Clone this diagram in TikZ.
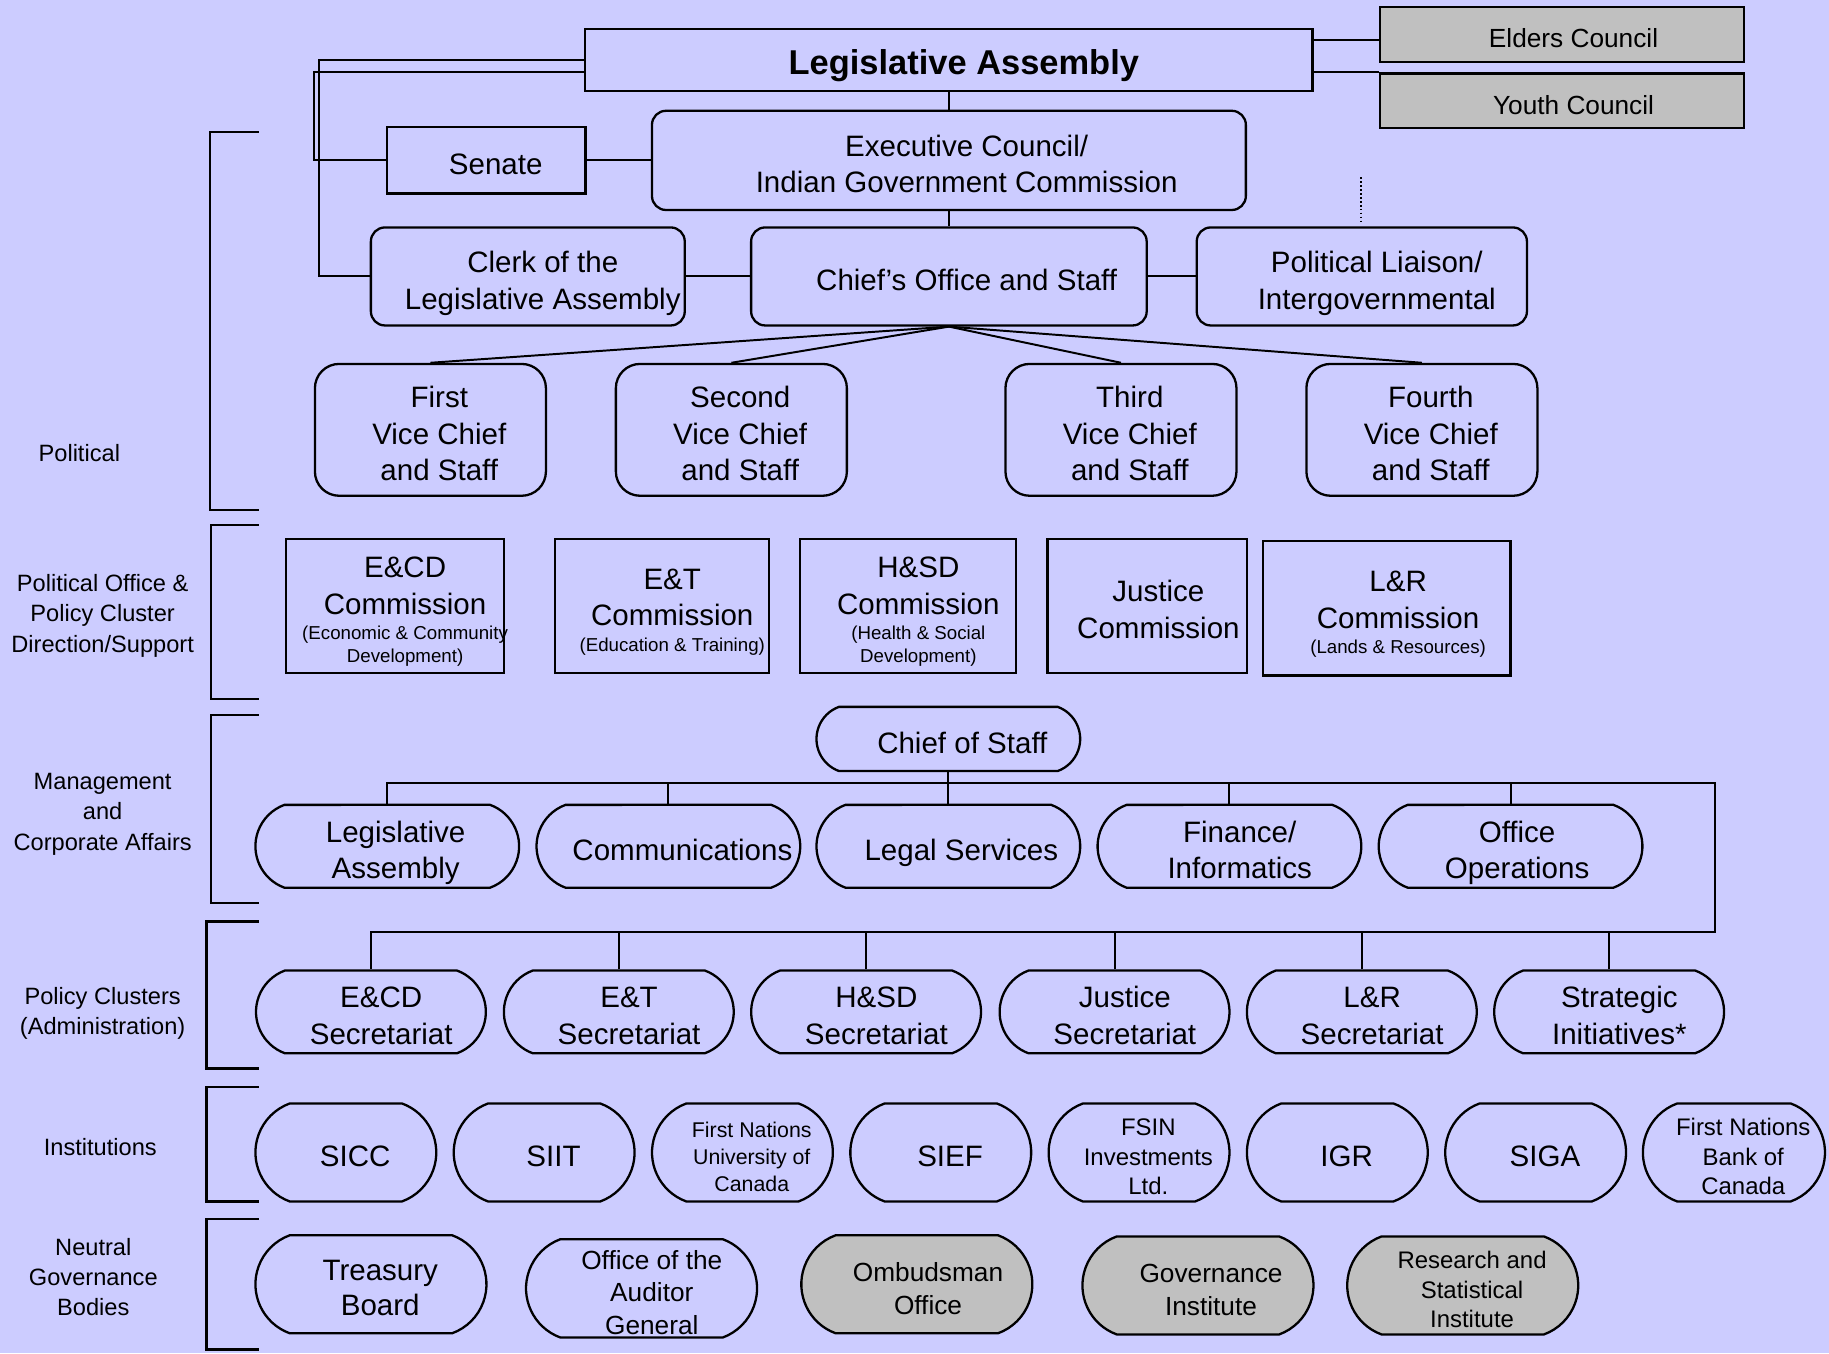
\documentclass[tikz,border=0pt]{standalone}
\usepackage{fontspec}
\setmainfont{Liberation Sans}
\usepackage{tikz}
\usetikzlibrary{shapes}
\definecolor{lavender}{RGB}{204,204,255}
\definecolor{greybox}{RGB}{192,192,192}
\newcommand{\mainf}{\fontsize{9}{11.2}\selectfont}
\newcommand{\smallf}{\fontsize{5.7}{7}\selectfont}
\newcommand{\sidef}{\fontsize{7.2}{9.2}\selectfont}
\newcommand{\tx}[2][0.11cm]{\raisebox{-2.1pt}[\height][\depth]{\kern#1\begin{tabular}{@{}c@{}}#2\end{tabular}\kern-#1}}

\begin{document}
\begin{tikzpicture}[x=0.0125cm, y=-0.0125cm,
  every node/.style={inner sep=0pt, font=\mainf},
  sq/.style={draw, line width=0.7pt},
  rnd/.style={draw, line width=0.7pt, rounded corners=0.15cm, minimum height=1.05cm},
  vice/.style={draw, line width=0.7pt, rounded corners=0.26cm, minimum width=2.475cm, minimum height=1.4125cm},
  comm/.style={draw, line width=0.7pt, minimum height=1.4375cm},
  pill/.style={draw, line width=0.7pt, rounded rectangle, rounded rectangle arc length=140},
  mgmt/.style={pill, minimum width=2.825cm, minimum height=0.8875cm},
  secr/.style={pill, minimum width=2.4625cm, minimum height=0.8875cm},
  inst/.style={pill, minimum width=1.9375cm, minimum height=1.05cm},
  ngb/.style={pill, minimum width=2.475cm, minimum height=1.05cm},
  council/.style={draw, line width=0.7pt, fill=greybox, minimum width=3.9cm, minimum height=0.5875cm, font=\fontsize{8}{10}\selectfont},
  side/.style={align=center, font=\sidef},
  link/.style={line width=0.6pt}
]
\path[use as bounding box, fill=lavender] (0,0) rectangle (1568,1160);

\node[sq, minimum width=7.79cm, minimum height=0.6625cm, font=\bfseries\fontsize{10.5}{12}\selectfont] (la) at (813.5,51.5) {\tx[0.16cm]{Legislative Assembly}};
\node[council] (elders) at (1339,29.5) {\tx[0.125cm]{Elders Council}};
\node[council] (youth) at (1339,86.5) {\tx[0.125cm]{Youth Council}};
\node[sq, minimum width=2.125cm, minimum height=0.7125cm] (senate) at (417,137.5) {\tx[0.1cm]{Senate}};
\node[rnd, minimum width=6.3625cm, minimum height=1.0625cm] (exec) at (813.5,137.5) {\tx[0.19cm]{Executive Council/\\Indian Government Commission}};
\node[rnd, minimum width=3.3625cm] (clerk) at (452.5,237) {\tx[0.16cm]{Clerk of the\\Legislative Assembly}};
\node[rnd, minimum width=4.2375cm] (chiefoff) at (813.5,237) {\tx[0.19cm]{Chief’s Office and Staff}};
\node[rnd, minimum width=3.5375cm] (liaison) at (1167.5,237) {\tx[0.16cm]{Political Liaison/\\Intergovernmental}};

\node[vice] (vc1) at (369,368.5) {\tx[0.095cm]{First\\Vice Chief\\and Staff}};
\node[vice] (vc2) at (627,368.5) {\tx[0.095cm]{Second\\Vice Chief\\and Staff}};
\node[vice] (vc3) at (961,368.5) {\tx[0.095cm]{Third\\Vice Chief\\and Staff}};
\node[vice] (vc4) at (1219,368.5) {\tx[0.095cm]{Fourth\\Vice Chief\\and Staff}};

\node[comm, minimum width=2.3375cm] (cecd) at (338.5,519.5) {\tx{E\&CD\\Commission\\[-3.7pt]\smallf(Economic \& Community\\[-4pt]\smallf Development)}};
\node[comm, minimum width=2.2875cm] (cet) at (567.5,519.5) {\tx{E\&T\\Commission\\[-3.4pt]\smallf(Education \& Training)}};
\node[comm, minimum width=2.3125cm] (chsd) at (778.5,519.5) {\tx{H\&SD\\Commission\\[-3.7pt]\smallf(Health \& Social\\[-4pt]\smallf Development)}};
\node[comm, minimum width=2.1375cm] (cjus) at (983.5,519.5) {\tx[0.12cm]{Justice\\Commission}};
\node[comm, minimum width=2.65cm] (clr) at (1189,521.5) {\tx[0.12cm]{L\&R\\Commission\\[-3.4pt]\smallf(Lands \& Resources)}};

\node[pill, minimum width=2.825cm, minimum height=0.6875cm] (cos) at (813,633.5) {\tx[0.15cm]{Chief of Staff}};
\node[mgmt] (mla) at (332,725.5) {\tx[0.09cm]{Legislative\\Assembly}};
\node[mgmt] (mcomm) at (573,725.5) {\tx[0.15cm]{Communications}};
\node[mgmt] (mlegal) at (813,725.5) {\tx[0.14cm]{Legal Services}};
\node[mgmt] (mfin) at (1054,725.5) {\tx{Finance/\\Informatics}};
\node[mgmt] (mops) at (1295,725.5) {\tx[0.07cm]{Office\\Operations}};

\node[secr] (secd) at (318,867.5) {\tx{E\&CD\\Secretariat}};
\node[secr] (set) at (530.5,867.5) {\tx{E\&T\\Secretariat}};
\node[secr] (shsd) at (742.5,867.5) {\tx{H\&SD\\Secretariat}};
\node[secr] (sjus) at (955.5,867.5) {\tx{Justice\\Secretariat}};
\node[secr] (slr) at (1167.5,867.5) {\tx{L\&R\\Secretariat}};
\node[secr] (sstrat) at (1379.5,867.5) {\tx{Strategic\\Initiatives*}};

\node[inst] (isicc) at (296.5,988) {\tx[0.1cm]{SICC}};
\node[inst] (isiit) at (466.5,988) {\tx[0.1cm]{SIIT}};
\node[inst, font=\fontsize{6.5}{8.2}\selectfont] (ifnuc) at (636.5,988) {\tx[0.1cm]{First Nations\\University of\\Canada}};
\node[inst] (isief) at (806.5,988) {\tx[0.1cm]{SIEF}};
\node[inst, font=\fontsize{7.3}{8.9}\selectfont] (ifsin) at (976.5,988) {\tx[0.1cm]{FSIN\\Investments\\Ltd.}};
\node[inst] (iigr) at (1146.5,988) {\tx[0.1cm]{IGR}};
\node[inst] (isiga) at (1316.5,988) {\tx[0.1cm]{SIGA}};
\node[inst, font=\fontsize{7.3}{8.9}\selectfont] (ifnbank) at (1486.5,988) {\tx[0.1cm]{First Nations\\Bank of\\Canada}};

\node[ngb, font=\fontsize{9}{10.7}\selectfont] (ntb) at (318,1101) {\tx[0.1cm]{Treasury\\Board}};
\node[ngb, font=\fontsize{8}{10}\selectfont] (noag) at (550,1104.5) {\tx{Office of the\\Auditor\\General}};
\node[ngb, fill=greybox, font=\fontsize{8}{10}\selectfont] (nomb) at (786,1101) {\tx[0.12cm]{Ombudsman\\Office}};
\node[ngb, fill=greybox, font=\fontsize{8}{10}\selectfont] (ngov) at (1027,1102) {\tx[0.14cm]{Governance\\Institute}};
\node[ngb, fill=greybox, font=\fontsize{7.3}{8.9}\selectfont] (nrsi) at (1254,1102) {\tx[0.1cm]{Research and\\Statistical\\Institute}};

\node[side] (lpol) at (68,388) {Political};
\node[side] (lpocd) at (88,528) {Political Office \&\\Policy Cluster\\Direction/Support};
\node[side] (lmca) at (88,698) {Management\\and\\Corporate Affairs};
\node[side] (lpc) at (88,869) {Policy Clusters\\(Administration)};
\node[side] (linst) at (86,983) {Institutions};
\node[side] (lngb) at (80,1095) {Neutral\\Governance\\Bodies};

\draw[link] (la.south) -- (exec.north);
\draw[link] ([yshift=-0.056cm]elders.west) coordinate (elink) -- (la.east |- elink);
\draw[link] (la.east |- youth.north west) -- (youth.north west);
\draw[link] (la.west) -- ++(-227,0) |- (clerk.west);
\draw[link] (la.west) ++(0,10) -- ++(-232,0) |- (senate.west);
\draw[link] (senate) -- (exec);
\draw[link] (exec) -- (chiefoff);
\draw[link] (clerk) -- (chiefoff);
\draw[link] (chiefoff) -- (liaison);
\coordinate (dotend) at (1167,152);
\draw[line width=0.5pt, dash pattern=on 0.5pt off 0.7pt] (dotend) -- ++(0,39);
\foreach \v in {vc1,vc2,vc3,vc4}
  \draw[link] (chiefoff.south) -- (\v.north);

\coordinate (mbar) at (1470,671);
\coordinate (sbar) at (1470,799);
\draw[link] (mla.north) |- (mbar) -- (sbar) -| (secd.north);
\draw[link] (cos.south) -- (mlegal.north);
\foreach \m in {mcomm,mfin,mops}
  \draw[link] (\m.north) -- (\m.north |- mbar);
\foreach \s in {set,shsd,sjus,slr,sstrat}
  \draw[link] (\s.north) -- (\s.north |- sbar);

\foreach \top/\bot/\xb in {113/437/180, 450/599/181, 613/774/181, 790/916/177, 932/1030/177, 1045/1157/177}
  \draw[line width=0.7pt] (222,\top) -- (\xb,\top) -- (\xb,\bot) -- (222,\bot);
\end{tikzpicture}
\end{document}
